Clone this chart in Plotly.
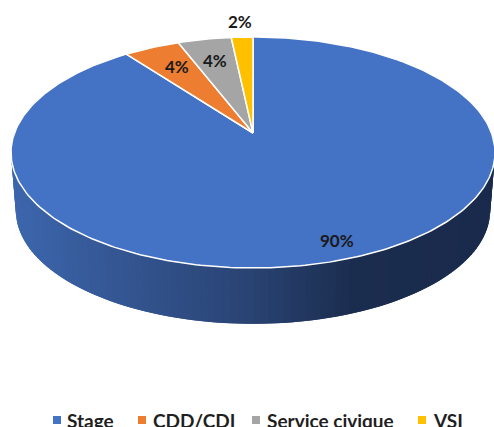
import math
import plotly.graph_objects as go

# Data
categories = ["Stage", "CDD/CDI", "Service civique", "VSI"]
values = [89.7, 4.4, 4.2, 1.7]
colors = ["#4472C4", "#ED7D31", "#A5A5A5", "#FFC000"]

# Projection of the tilted disc onto the page
W, H = 494, 427
CX, CY = 253, 133
RX, RY, K = 238.5, 112.2, 0.169
DEPTH, SHRINK = 58.5, 0.98
FONT = "Lato, 'Open Sans', sans-serif"


def project(frac, r=1.0, dy=0.0, s=1.0):
    t = 2 * math.pi * frac
    u, v = r * math.sin(t), r * math.cos(t)
    w = 1 + K * v
    return CX + s * RX * u / w, CY + dy - s * RY * v / w


def wall_color(x):
    stops = [(16, (60, 102, 172)), (90, (54, 90, 153)), (250, (41, 66, 114)),
             (350, (27, 45, 79)), (490, (25, 42, 76))]
    for (x0, c0), (x1, c1) in zip(stops, stops[1:]):
        if x <= x1:
            f = max(0, (x - x0) / (x1 - x0))
            return "rgb(%d,%d,%d)" % tuple(round(a + (b - a) * f) for a, b in zip(c0, c1))
    return "rgb(25,42,76)"


fig = go.Figure()

# Side wall, drawn as narrow strips along the front of the disc
N = 140
f0, f1 = 0.2, 0.8
for i in range(N):
    a = f0 + (f1 - f0) * i / N
    b = f0 + (f1 - f0) * (i + 1) / N
    b2 = min(f1, b + (f1 - f0) / N)  # overlap the next strip to hide seams
    p = [project(a), project(b2), project(b2, dy=DEPTH, s=SHRINK), project(a, dy=DEPTH, s=SHRINK)]
    col = wall_color(sum(q[0] for q in p) / 4)
    fig.add_trace(go.Scatter(
        x=[q[0] for q in p] + [p[0][0]], y=[q[1] for q in p] + [p[0][1]],
        mode="lines", fill="toself", fillcolor=col, line=dict(color=col, width=0),
        hoverinfo="skip", showlegend=False))

# Top face slices
total = sum(values)
cum = 0.0
mids = []
for cat, val, col in zip(categories, values, colors):
    a, b = cum / total, (cum + val) / total
    mids.append((a + b) / 2)
    steps = max(2, int((b - a) * 360))
    rim = [project(a + (b - a) * j / steps) for j in range(steps + 1)]
    xs = [CX] + [q[0] for q in rim] + [CX]
    ys = [CY] + [q[1] for q in rim] + [CY]
    fig.add_trace(go.Scatter(x=xs, y=ys, mode="lines", fill="toself", fillcolor=col,
                             line=dict(color="white", width=1.5), name=cat,
                             hoverinfo="name", showlegend=False))
    cum += val

# Percentage labels, placed by slice mid-angle
label_r = [0.87, 0.76, 0.75, 1.19]
label_shift = [7, 3, 0, 0]
annotations = []
for val, mid, r, sh in zip(values, mids, label_r, label_shift):
    x, y = project(mid, r=r)
    annotations.append(dict(x=x, y=y, xref="x", yref="y", text=f"{val:.0f}%", showarrow=False,
                            xshift=sh, font=dict(family=FONT, size=17, color="#1a1a1a", weight=700)))

# Legend row
legend_marker_x = [57, 142, 256, 422]
legend_text_x = [65, 151, 265, 431]
legend_y = 420
fig.add_trace(go.Scatter(x=legend_marker_x, y=[legend_y] * 4, mode="markers",
                         marker=dict(symbol="square", size=8, color=colors, line=dict(width=0)),
                         hoverinfo="skip", showlegend=False, cliponaxis=False))
for cat, x in zip(categories, legend_text_x):
    annotations.append(dict(x=x, y=legend_y, xref="x", yref="y", text=cat, showarrow=False,
                            xanchor="left", yanchor="middle",
                            font=dict(family=FONT, size=19, color="#1f1f1f", weight=700)))

fig.update_layout(
    width=W, height=H, margin=dict(l=0, r=0, t=0, b=0),
    paper_bgcolor="white", plot_bgcolor="white", showlegend=False,
    xaxis=dict(range=[0, W], visible=False, fixedrange=True),
    yaxis=dict(range=[H, 0], visible=False, fixedrange=True),
    annotations=annotations,
)
fig.write_html("out.html", config={"displayModeBar": False},
               post_script="document.body.style.margin='0';document.body.style.overflow='hidden';")
